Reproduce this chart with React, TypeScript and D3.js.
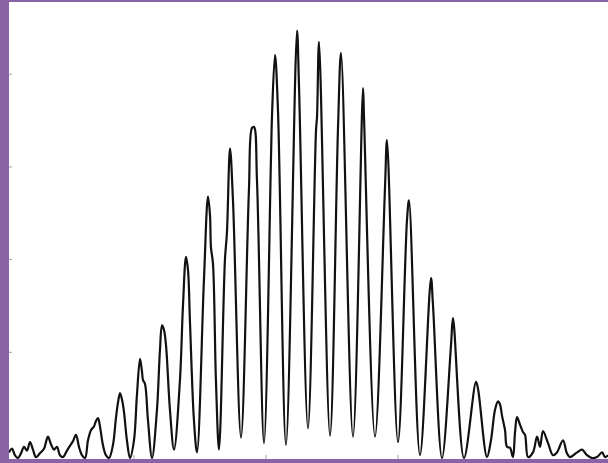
import React from "react";
import * as d3 from "d3";

// Interferometric autocorrelation trace: delay (arb. steps) vs. signal (a.u.)
const delay: number[] = [
  -23.36, -23.09, -22.82, -22.55, -22.27, -22.0, -21.73, -21.45, -21.18, -20.91,
  -20.55, -20.18, -19.82, -19.55, -19.27, -19.0, -18.73, -18.45, -18.09, -17.82,
  -17.55, -17.27, -17.0, -16.73, -16.45, -16.18, -15.91, -15.64, -15.45, -15.27,
  -15.09, -14.82, -14.55, -14.27, -13.91, -13.64, -13.45, -13.27, -13.09, -12.91,
  -12.64, -12.36, -12.0, -11.73, -11.45, -11.27, -11.18, -11.0, -10.73, -10.36,
  -9.91, -9.64, -9.45, -9.27, -9.09, -8.73, -8.36,
  -7.82, -7.55, -7.27, -7.09, -6.91, -6.55, -6.27,
  -5.64, -5.27, -5.09, -5.0, -4.82, -4.55, -4.27,
  -3.73, -3.55, -3.27, -3.0, -2.27,
  -1.55, -1.27, -1.09, -0.82, -0.18,
  0.45, 0.55, 0.82, 1.09, 1.82,
  2.82, 3.0, 3.82,
  4.55, 4.64, 4.82, 5.82,
  6.55, 6.82, 7.91,
  8.82, 8.91, 9.91,
  10.82, 11.0, 12.0,
  12.82, 13.0, 14.0,
  15.0, 15.18, 16.0,
  16.82, 17.0, 18.0,
  19.09, 19.27, 20.09,
  20.45, 20.82, 21.09, 21.27, 21.45, 21.73, 21.91, 22.18, 22.45, 22.64,
  22.82, 23.09, 23.36, 23.55, 23.82, 24.27, 24.64, 24.91, 25.18, 25.64,
  26.09, 26.45, 27.0, 27.36, 27.64, 28.27, 28.73, 29.18, 29.64, 30.09,
  30.55, 30.82, 31.09,
];

const signal: number[] = [
  -0.08, -0.04, -0.11, -0.14, -0.09, -0.02, -0.06, 0.03, -0.05, -0.13,
  -0.09, -0.04, 0.09, 0.01, -0.05, -0.02, -0.11, -0.13, -0.06, -0.01,
  0.04, 0.11, -0.02, -0.11, -0.14, 0.05, 0.16, 0.2, 0.26, 0.29,
  0.2, 0.0, -0.11, -0.14, 0.0, 0.29, 0.46, 0.56, 0.49, 0.36,
  0.05, -0.14, 0.05, 0.54, 0.93, 0.79, 0.7, 0.66, 0.27, -0.14,
  0.38, 1.02, 1.29, 1.24, 1.08, 0.38, -0.05,
  0.7, 1.49, 2.03, 1.89, 1.33, 0.27, -0.08,
  1.78, 2.68, 2.48, 2.13, 1.96, 0.7, -0.05,
  2.0, 2.29, 3.2, 2.64, 0.08,
  2.75, 3.42, 3.43, 2.86, 0.02,
  3.07, 3.56, 4.21, 3.61, 0.0,
  4.47, 3.88, 0.18,
  3.4, 3.54, 4.35, 0.1,
  3.43, 4.23, 0.09,
  3.85, 3.54, 0.09,
  2.78, 3.29, 0.03,
  2.43, 2.64, -0.11,
  1.8, 1.51, -0.14,
  1.08, 1.37, -0.14,
  0.68, 0.61, -0.13,
  0.05, 0.38, 0.47, 0.44, 0.32, 0.16, -0.02, -0.03, -0.13, 0.14,
  0.3, 0.22, 0.14, 0.11, -0.13, -0.08, 0.09, -0.02, 0.15, 0.02,
  -0.11, -0.08, 0.05, -0.09, -0.13, -0.08, -0.05, -0.11, -0.14, -0.13,
  -0.08, -0.13, -0.11,
];

const xTicks: number[] = [-12, 0, 12, 24];
const yTicks: number[] = [1, 2, 3, 4];

const W = 608;
const H = 463;
const frame = "#8a62a6";
const plot = { left: 9, top: 2, right: 608, bottom: 459 };

export default function App() {
  const x = d3.scaleLinear().domain([-23.36, 31.09]).range([plot.left, plot.right]);
  const y = d3.scaleLinear().domain([-0.151, 4.779]).range([plot.bottom, plot.top]);

  const points: [number, number][] = delay.map((d, i) => [d, signal[i]]);
  const line = d3
    .line<[number, number]>()
    .x((d) => x(d[0]))
    .y((d) => y(d[1]))
    .curve(d3.curveCatmullRom.alpha(0.5));

  return (
    <svg
      width={W}
      height={H}
      style={{ position: "absolute", left: 0, top: 0, display: "block" }}
    >
      <rect x={0} y={0} width={W} height={H} fill={frame} />
      <defs>
        <clipPath id="plot-area">
          <rect
            x={plot.left}
            y={plot.top}
            width={plot.right - plot.left}
            height={plot.bottom - plot.top}
          />
        </clipPath>
      </defs>
      <rect
        x={plot.left}
        y={plot.top}
        width={plot.right - plot.left}
        height={plot.bottom - plot.top}
        fill="#ffffff"
      />
      {yTicks.map((t) => (
        <line
          key={`y${t}`}
          x1={plot.left}
          x2={plot.left + 3}
          y1={y(t)}
          y2={y(t)}
          stroke="#a0a0a0"
          strokeWidth={1}
        />
      ))}
      {xTicks.map((t) => (
        <line
          key={`x${t}`}
          x1={x(t)}
          x2={x(t)}
          y1={plot.bottom}
          y2={plot.bottom - 4}
          stroke="#a0a0a0"
          strokeWidth={1}
        />
      ))}
      <g clipPath="url(#plot-area)">
        <path
          d={line(points) ?? ""}
          fill="none"
          stroke="#111111"
          strokeWidth={2.2}
          strokeLinejoin="round"
        />
      </g>
    </svg>
  );
}
